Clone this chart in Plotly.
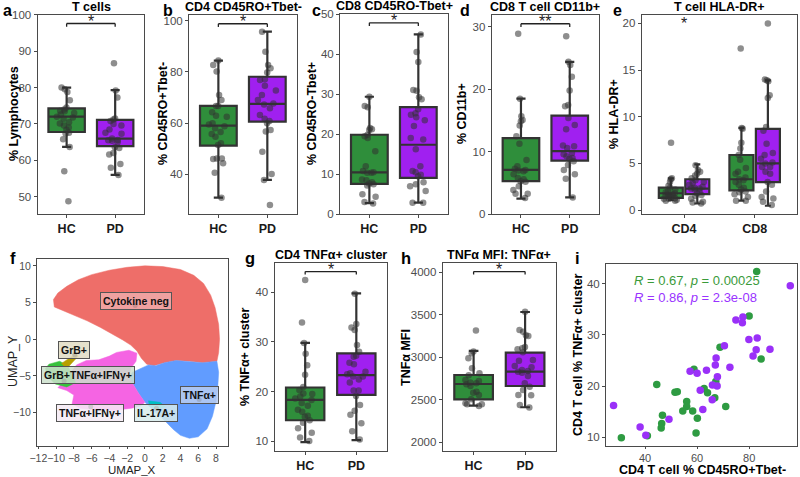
import plotly.graph_objects as go

# ---------------- DATA ----------------
cats = ["HC", "PD"]

# a: T cells (% Lymphocytes)
a_hc = [79.5, 78.8, 80.0, 76.5, 74.5, 74.0, 73.6, 73.5, 73.0, 72.6, 72.0, 71.8, 71.4, 70.5, 70.1, 69.6, 69.0, 68.4, 67.6, 67.4, 65.8, 63.7, 57.0, 48.8]
a_pd = [86.7, 79.2, 77.3, 71.5, 71.2, 70.8, 70.0, 69.6, 68.5, 67.6, 67.3, 66.0, 65.6, 65.5, 65.4, 65.0, 63.6, 63.4, 62.0, 61.6, 59.0, 58.0, 56.0]
a_stats_hc = [67.8, 72.0, 74.3, 63.7, 80.0]   # q1, median, q3, lower whisker, upper whisker
a_stats_pd = [63.9, 66.0, 71.1, 56.0, 79.3]

# b: CD4 CD45RO+Tbet-
b_hc = [84.4, 82.7, 80.1, 71.0, 69.0, 66.7, 66.7, 64.2, 62.9, 62.5, 59.9, 59.5, 58.8, 58.0, 56.5, 55.7, 54.7, 52.1, 51.5, 46.2, 46.0, 46.2, 44.3, 40.6, 30.9]
b_pd = [95.7, 87.9, 82.7, 81.4, 79.8, 77.1, 76.8, 74.6, 72.7, 71.0, 69.0, 67.7, 67.3, 65.8, 63.2, 61.7, 60.8, 59.9, 57.3, 56.7, 48.8, 40.1, 37.8, 28.0]
b_stats_hc = [51.2, 59.0, 66.7, 30.9, 84.4]
b_stats_pd = [60.6, 67.5, 78.1, 37.8, 95.7]

# c: CD8 CD45RO-Tbet+
c_hc = [29.4, 27.1, 26.8, 21.6, 21.3, 21.1, 19.9, 19.5, 19.1, 15.8, 12.0, 10.8, 10.5, 10.4, 10.4, 8.7, 8.5, 8.0, 7.7, 7.5, 7.2, 5.0, 4.4, 3.1, 2.7]
c_pd = [45.0, 40.6, 38.1, 31.1, 30.9, 29.3, 28.8, 26.3, 25.3, 24.9, 24.3, 23.5, 22.1, 19.1, 18.7, 16.3, 12.0, 10.8, 10.5, 9.9, 9.5, 8.0, 7.5, 7.0, 5.8, 2.9, 2.9]
c_stats_hc = [7.6, 10.5, 19.9, 2.8, 29.4]
c_stats_pd = [9.1, 17.4, 26.8, 2.9, 45.0]

# d: CD8 T cell CD11b+
d_hc = [28.9, 18.5, 15.7, 15.1, 14.9, 14.2, 12.5, 11.3, 8.7, 7.7, 7.3, 7.1, 7.0, 6.9, 6.4, 5.8, 5.6, 5.3, 5.2, 4.5, 3.9, 3.3, 3.3, 2.6]
d_pd = [28.5, 24.4, 23.9, 22.0, 19.8, 17.5, 17.3, 15.4, 14.3, 13.6, 11.0, 10.9, 10.6, 9.8, 9.6, 9.3, 9.0, 8.9, 8.5, 7.9, 7.1, 6.4, 5.7, 2.7]
d_stats_hc = [5.3, 7.1, 12.2, 2.5, 18.5]
d_stats_pd = [8.6, 10.1, 15.8, 2.7, 24.4]

# e: T cell HLA-DR+
e_groups = ["CD4", "CD8"]
e_cd4_hc = [7.2, 3.4, 3.3, 3.0, 2.6, 2.4, 2.2, 2.0, 1.9, 1.8, 1.7, 1.7, 1.6, 1.5, 1.5, 1.4, 1.3, 1.2, 1.2, 1.1, 1.0, 1.0]
e_cd4_pd = [4.8, 4.3, 4.1, 3.9, 3.7, 3.4, 3.2, 3.0, 2.9, 2.7, 2.5, 2.4, 2.3, 2.3, 2.2, 2.0, 1.8, 1.6, 1.5, 1.2, 0.9, 0.8, 0.7]
e_cd8_hc = [17.3, 8.8, 8.7, 7.2, 6.6, 5.9, 5.4, 4.5, 4.1, 3.9, 3.5, 3.3, 3.2, 3.0, 2.7, 2.4, 2.2, 2.0, 1.9, 1.7, 1.4, 1.0, 1.0]
e_cd8_pd = [20.0, 14.0, 13.9, 13.8, 12.3, 12.0, 8.9, 8.5, 7.1, 6.1, 5.9, 5.5, 5.1, 5.0, 4.6, 4.6, 4.1, 3.9, 3.0, 2.7, 2.0, 1.4, 1.25, 0.9, 0.55]
e_stats_cd4_hc = [1.3, 1.8, 2.4, 1.05, 3.4]
e_stats_cd4_pd = [1.7, 2.3, 3.3, 0.7, 4.9]
e_stats_cd8_hc = [2.1, 3.3, 5.9, 1.0, 8.8]
e_stats_cd8_pd = [3.0, 5.0, 8.7, 0.46, 13.9]

# f: UMAP cluster outlines (polygon vertices) and label centroids
red_x = [-10.2, -10.3, -9.8, -8.8, -7.5, -6.0, -4.0, -2.0, 0.0, 2.0, 4.0, 5.5, 6.6, 7.4, 7.9, 8.3, 8.4, 8.3, 8.1, 6.5, 5.0, 3.5, 2.2, 1.0, 0.2, -0.4, -0.9, -1.6, -2.5, -3.5, -5.0, -6.5, -8.0, -9.3, -10.2]
red_y = [4.4, 5.4, 6.3, 7.2, 8.1, 8.8, 9.4, 9.8, 10.0, 9.9, 9.5, 8.7, 7.6, 6.0, 4.3, 2.0, 0.0, -1.8, -3.0, -3.2, -3.0, -2.9, -3.2, -3.6, -3.4, -2.6, -1.6, -0.8, -0.1, 0.6, 1.6, 2.5, 3.3, 3.9, 4.4]
blue_x = [8.1, 8.3, 8.2, 8.0, 7.6, 7.0, 6.0, 5.0, 4.0, 3.2, 2.4, 1.5, 0.6, 0.0, -0.7, -1.3, -1.8, -1.4, -0.5, 0.4, 1.2, 2.2, 3.5, 5.0, 6.5, 8.1]
blue_y = [-3.0, -4.5, -6.5, -8.5, -10.5, -12.2, -13.3, -13.5, -13.1, -12.3, -11.3, -10.3, -9.4, -8.6, -7.4, -6.2, -5.2, -4.5, -4.0, -3.5, -3.6, -3.2, -2.9, -3.0, -3.2, -3.0]
pink_x = [-3.2, -1.8, -0.9, -1.0, -1.6, -1.8, -1.3, -0.7, 0.0, -0.5, -1.5, -3.5, -5.5, -7.3, -8.2, -8.0, -8.8, -9.8, -9.0, -8.3, -7.7, -6.6, -5.2, -4.0, -3.2]
pink_y = [-1.8, -1.5, -1.9, -3.0, -4.0, -5.2, -6.2, -7.4, -8.6, -9.1, -9.4, -9.7, -9.6, -9.4, -8.8, -7.6, -7.0, -6.6, -5.6, -4.5, -3.5, -2.9, -2.8, -2.3, -1.8]
green_x = [-10.8, -9.6, -8.7, -8.3, -7.8, -8.8, -10.1, -11.0, -11.2, -10.8]
green_y = [-3.4, -3.0, -3.6, -4.7, -5.9, -6.5, -6.1, -5.0, -4.0, -3.4]
olive_x = [-9.4, -8.4, -7.8, -7.5, -8.2, -8.8, -9.4]
olive_y = [-3.3, -2.5, -2.0, -2.3, -3.3, -4.0, -3.3]
teal_x = [0.4, 1.7, 2.3, 1.3, 0.5, 0.4]
teal_y = [-8.4, -8.6, -9.2, -9.6, -9.1, -8.4]
cluster_names = ["Cytokine neg", "GrB+", "GrB+TNFα+IFNγ+", "TNFα+IFNγ+", "IL-17A+", "TNFα+"]
centroid_x = [-1.1, -7.9, -9.1, -6.1, 1.3, 6.1]
centroid_y = [4.6, -2.1, -5.7, -9.2, -9.4, -8.2]
label_x = [-1.0, -7.95, -6.4, -6.2, 1.3, 6.15]
label_y = [5.25, -1.5, -4.85, -10.0, -10.1, -7.65]

# g: CD4 TNFα+ cluster
g_hc = [42.5, 33.9, 29.8, 27.6, 25.3, 23.4, 20.9, 20.3, 19.6, 19.5, 19.0, 18.6, 18.3, 17.7, 17.1, 16.3, 15.9, 15.1, 14.9, 14.2, 13.7, 12.6, 11.7, 10.7, 10.0]
g_pd = [39.7, 33.6, 32.9, 32.4, 29.4, 28.0, 27.2, 27.0, 25.8, 25.5, 24.0, 23.7, 23.5, 23.0, 23.0, 22.4, 21.8, 20.2, 20.2, 19.1, 17.3, 16.1, 15.3, 13.6, 12.0, 10.3]
g_stats_hc = [14.2, 18.3, 20.8, 9.8, 29.8]
g_stats_pd = [19.3, 23.3, 27.7, 10.2, 39.8]

# h: TNFα MFI
h_hc = [3314, 3067, 3047, 2988, 2871, 2812, 2790, 2733, 2722, 2702, 2694, 2682, 2663, 2596, 2584, 2557, 2506, 2459, 2447, 2447, 2427]
h_pd = [3535, 3320, 3300, 3260, 3250, 3120, 3105, 3094, 3060, 2968, 2960, 2898, 2882, 2851, 2840, 2831, 2819, 2780, 2694, 2654, 2615, 2556, 2552, 2439, 2410]
h_stats_hc = [2506, 2686, 2792, 2431, 3075]
h_stats_pd = [2662, 2831, 3054, 2412, 3533]

# i: correlation scatter
i_hc_x = [82.9, 80.0, 68.8, 84.6, 58.8, 44.5, 67.2, 51.5, 52.4, 62.7, 64.0, 66.8, 56.0, 56.0, 71.0, 54.5, 58.3, 46.7, 60.1, 46.4, 46.2, 59.6, 40.9, 30.9]
i_hc_y = [42.4, 33.7, 27.6, 25.3, 23.3, 20.3, 20.9, 18.8, 18.9, 19.5, 18.7, 17.7, 17.0, 16.0, 16.0, 15.1, 15.1, 14.3, 13.7, 12.7, 11.8, 10.8, 10.3, 9.9]
i_pd_x = [95.8, 74.9, 77.6, 77.4, 79.9, 83.1, 70.5, 88.0, 82.7, 81.5, 67.3, 67.0, 72.6, 57.3, 60.0, 63.6, 67.8, 65.9, 67.7, 61.2, 65.8, 62.2, 27.9, 49.2, 38.1, 40.3]
i_pd_y = [39.6, 32.9, 33.5, 32.4, 29.1, 29.4, 27.9, 27.2, 27.1, 25.9, 25.5, 24.1, 23.7, 22.9, 22.5, 23.1, 21.8, 20.2, 20.0, 19.2, 17.3, 15.4, 16.2, 13.5, 12.0, 10.4]
i_r_hc, i_p_hc = "0.67", "0.00025"
i_r_pd, i_p_pd = "0.86", "2.3e-08"

# ---------------- STYLE / LAYOUT ----------------
W, H = 800, 477
FONT = "Liberation Sans, Arial, sans-serif"
GREEN = "#2F8E3B"
PURPLE = "#A020F0"
BOXLINE = "#333333"
PT = "rgba(50,50,50,0.55)"
FRAME = "#4a4a4a"
TICKC = "#4D4D4D"

def fx(p): return p / W
def fy(p): return 1 - p / H

# pixel frames: (left, right, top, bottom)
frames = {
    1: (37.5, 144.3, 14.7, 214.3),
    2: (189, 296.7, 15, 214.3),
    3: (340, 447.7, 14, 214.3),
    4: (491.7, 599, 15, 214.3),
    5: (641.7, 797, 15, 213.5),
    6: (37, 228, 259, 446),
    7: (274.5, 387, 263.3, 450.7),
    8: (442.7, 556, 263.3, 450.7),
    9: (606, 797.3, 264, 446),
}

fig = go.Figure()
layout = dict(width=W, height=H, margin=dict(l=0, r=0, t=0, b=0),
              paper_bgcolor="white", plot_bgcolor="white", boxmode="overlay",
              showlegend=False, font=dict(family=FONT, color="black"))

def axname(n, kind):
    return kind if n == 1 else f"{kind}{n}"

def base_axis():
    return dict(showgrid=False, zeroline=False, showline=True, mirror=True,
                linecolor=FRAME, linewidth=1, ticks="outside", ticklen=3,
                tickcolor=FRAME, tickwidth=1, tickangle=0, automargin=False,
                tickfont=dict(family=FONT, size=11.5, color=TICKC))

def set_axes(n, xcfg, ycfg):
    l, r, t, b = frames[n]
    xa = base_axis(); xa.update(domain=[fx(l), fx(r)], anchor=axname(n, "y")); xa.update(xcfg)
    ya = base_axis(); ya.update(domain=[fy(b), fy(t)], anchor=axname(n, "x")); ya.update(ycfg)
    layout["xaxis" if n == 1 else f"xaxis{n}"] = xa
    layout["yaxis" if n == 1 else f"yaxis{n}"] = ya

def stat_box(n, xpos, s, color, width):
    fig.add_trace(go.Box(x=[xpos], q1=[s[0]], median=[s[1]], q3=[s[2]],
                         lowerfence=[s[3]], upperfence=[s[4]], orientation="v",
                         fillcolor=color, line=dict(color=BOXLINE, width=2.2),
                         whiskerwidth=0.25, width=width, boxpoints=False,
                         xaxis=axname(n, "x"), yaxis=axname(n, "y"), hoverinfo="skip"))

def pts(n, xpos, vals, width, jit):
    fig.add_trace(go.Box(x=[xpos] * len(vals), y=vals, boxpoints="all", jitter=jit, pointpos=0,
                         fillcolor="rgba(0,0,0,0)", line=dict(color="rgba(0,0,0,0)", width=0),
                         whiskerwidth=0, width=width,
                         marker=dict(color=PT, size=6.5, line=dict(width=0)),
                         xaxis=axname(n, "x"), yaxis=axname(n, "y")))

cat_x = dict(type="category", categoryorder="array", categoryarray=cats, range=[-0.6, 1.6],
             tickfont=dict(family=FONT, size=12.5, color="#1a1a1a", weight="bold"))

annotations = []
shapes = []

def bracket(n, stars):
    xr, yr = axname(n, "x"), axname(n, "y") + " domain"
    yb, yt = 0.940, 0.956
    for (x0, y0, x1, y1) in [(0, yb, 0, yt), (0, yt, 1, yt), (1, yt, 1, yb)]:
        shapes.append(dict(type="line", xref=xr, yref=yr, x0=x0, y0=y0, x1=x1, y1=y1,
                           line=dict(color="#222", width=1.3)))
    annotations.append(dict(x=0.5, y=yt, xref=xr, yref=yr, text=stars, showarrow=False,
                            yanchor="middle", yshift=2,
                            font=dict(family=FONT, size=16, color="#222")))

def two_group_panel(n, hc, pdv, shc, spd, yrange, ytv, stars):
    set_axes(n, dict(cat_x), dict(range=yrange, tickvals=ytv))
    stat_box(n, "HC", shc, GREEN, 0.75)
    stat_box(n, "PD", spd, PURPLE, 0.75)
    pts(n, "HC", hc, 0.75, 0.55)
    pts(n, "PD", pdv, 0.75, 0.55)
    bracket(n, stars)

two_group_panel(1, a_hc, a_pd, a_stats_hc, a_stats_pd, [45.2, 100], [50, 60, 70, 80, 90, 100], "*")
two_group_panel(2, b_hc, b_pd, b_stats_hc, b_stats_pd, [24.4, 102.2], [40, 60, 80, 100], "*")
two_group_panel(3, c_hc, c_pd, c_stats_hc, c_stats_pd, [0, 50.1], [0, 10, 20, 30, 40, 50], "*")
two_group_panel(4, d_hc, d_pd, d_stats_hc, d_stats_pd, [0, 31.9], [0, 10, 20, 30], "**")
two_group_panel(7, g_hc, g_pd, g_stats_hc, g_stats_pd, [8.06, 45.85], [10, 20, 30, 40], "*")
two_group_panel(8, h_hc, h_pd, h_stats_hc, h_stats_pd, [1901, 4106], [2000, 2500, 3000, 3500, 4000], "*")

# e: grouped boxes
set_axes(5, dict(range=[0.4, 2.6], tickvals=[1, 2], ticktext=e_groups,
                 tickfont=dict(family=FONT, size=12.5, color="#1a1a1a", weight="bold")),
         dict(range=[-0.37, 20.9], tickvals=[0, 5, 10, 15, 20]))
dodge = 0.1875
bw = 0.34
for gi, (hc, pdv, shc, spd) in enumerate([(e_cd4_hc, e_cd4_pd, e_stats_cd4_hc, e_stats_cd4_pd),
                                          (e_cd8_hc, e_cd8_pd, e_stats_cd8_hc, e_stats_cd8_pd)]):
    c = gi + 1
    stat_box(5, c - dodge, shc, GREEN, bw)
    stat_box(5, c + dodge, spd, PURPLE, bw)
    pts(5, c - dodge, hc, bw, 0.7)
    pts(5, c + dodge, pdv, bw, 0.7)
annotations.append(dict(x=1, y=0.955, xref="x5", yref="y5 domain", text="*", showarrow=False,
                        yanchor="middle", font=dict(family=FONT, size=16, color="#222")))

# f: UMAP
set_axes(6, dict(range=[-12.15, 9.35], tickvals=list(range(-12, 9, 2)), ticklen=2,
                 tickfont=dict(family=FONT, size=10.5, color=TICKC)),
         dict(range=[-14.55, 10.93], tickvals=[-10, -5, 0, 5, 10],
              tickfont=dict(family=FONT, size=10.5, color=TICKC)))
for xs, ys, col in [(red_x, red_y, "#EE6E69"), (blue_x, blue_y, "#619CFF"), (pink_x, pink_y, "#F564E3"),
                    (green_x, green_y, "#37C13C"), (olive_x, olive_y, "#B79F00"), (teal_x, teal_y, "#00BFC4")]:
    fig.add_trace(go.Scatter(x=xs, y=ys, mode="lines", fill="toself", fillcolor=col,
                             line=dict(width=0.5, color=col), xaxis="x6", yaxis="y6", hoverinfo="skip"))
label_fill = ["rgba(240,170,170,0.85)", "rgba(225,220,195,0.85)", "rgba(205,225,205,0.85)",
              "rgba(245,235,245,0.85)", "rgba(215,235,235,0.85)", "rgba(185,205,240,0.85)"]
for k, name in enumerate(cluster_names):
    annotations.append(dict(x=label_x[k], y=label_y[k], xref="x6", yref="y6", text=name, showarrow=False,
                            bgcolor=label_fill[k], bordercolor="#555", borderwidth=1, borderpad=2,
                            font=dict(family=FONT, size=10.5, color="#111", weight="bold")))
fig.add_trace(go.Scatter(x=centroid_x, y=centroid_y, mode="markers", marker=dict(color="black", size=5),
                         xaxis="x6", yaxis="y6", hoverinfo="skip"))

# i: scatter
set_axes(9, dict(range=[25, 98.5], tickvals=[40, 60, 80], ticklen=2,
                 tickfont=dict(family=FONT, size=11, color=TICKC)),
         dict(range=[8.28, 43.87], tickvals=[10, 20, 30, 40]))
fig.add_trace(go.Scatter(x=i_hc_x, y=i_hc_y, mode="markers", marker=dict(color="#2E9B42", size=7.5),
                         xaxis="x9", yaxis="y9"))
fig.add_trace(go.Scatter(x=i_pd_x, y=i_pd_y, mode="markers", marker=dict(color="#9A30F8", size=7.5),
                         xaxis="x9", yaxis="y9"))
annotations.append(dict(x=fx(632), y=fy(280), xref="paper", yref="paper", xanchor="left", showarrow=False,
                        text=f"<i>R</i> = {i_r_hc}, <i>p</i> = {i_p_hc}",
                        font=dict(family=FONT, size=13, color="#3A9A3A")))
annotations.append(dict(x=fx(632), y=fy(297.5), xref="paper", yref="paper", xanchor="left", showarrow=False,
                        text=f"<i>R</i> = {i_r_pd}, <i>p</i> = {i_p_pd}",
                        font=dict(family=FONT, size=13, color="#9933FF")))

# titles
def text(x, y, s, size=12.5, bold=True, angle=0, color="black", yanchor="middle"):
    annotations.append(dict(x=fx(x), y=fy(y), xref="paper", yref="paper", text=s, showarrow=False,
                            textangle=angle, xanchor="center", yanchor=yanchor,
                            font=dict(family=FONT, size=size, color=color, weight="bold" if bold else "normal")))

for x, y, s in [(91, 7, "T cells"), (243, 7, "CD4 CD45RO+Tbet-"), (394, 6.5, "CD8 CD45RO-Tbet+"),
                (545, 7, "CD8 T cell CD11b+"), (719, 7, "T cell HLA-DR+"),
                (331, 255, "CD4 TNFα+ cluster"), (499, 255, "TNFα MFI: TNFα+")]:
    text(x, y, s, 12.5)

for x, y, s in [(7, 0, "a"), (168, 0, "b"), (316, 0, "c"), (465, 0, "d"), (617, 0, "e")]:
    text(x, y, s, 16, yanchor="top")
for x, y, s in [(13, 258, "f"), (250, 258, "g"), (406, 258, "h"), (577, 258, "i")]:
    text(x, y, s, 16.5)

for x, y, s in [(14, 114, "% Lymphocytes"), (163, 114, "% CD45RO+Tbet-"), (312, 114, "% CD45RO-Tbet+"),
                (462, 114, "% CD11b+"), (614, 114, "% HLA-DR+"), (245, 357, "% TNFα+ cluster"),
                (406, 357, "TNFα MFI"), (578, 355, "CD4 T cell % TNFα+ cluster")]:
    text(x, y, s, 12.5, angle=-90)
text(13, 361, "UMAP_Y", 12.5, bold=False, angle=-90, color="#222")
text(132, 470, "UMAP_X", 11.5, bold=False, color="#222")
text(702, 470, "CD4 T cell % CD45RO+Tbet-", 12.5)

layout["annotations"] = annotations
layout["shapes"] = shapes
fig.update_layout(**layout)
fig.write_html("out.html")
